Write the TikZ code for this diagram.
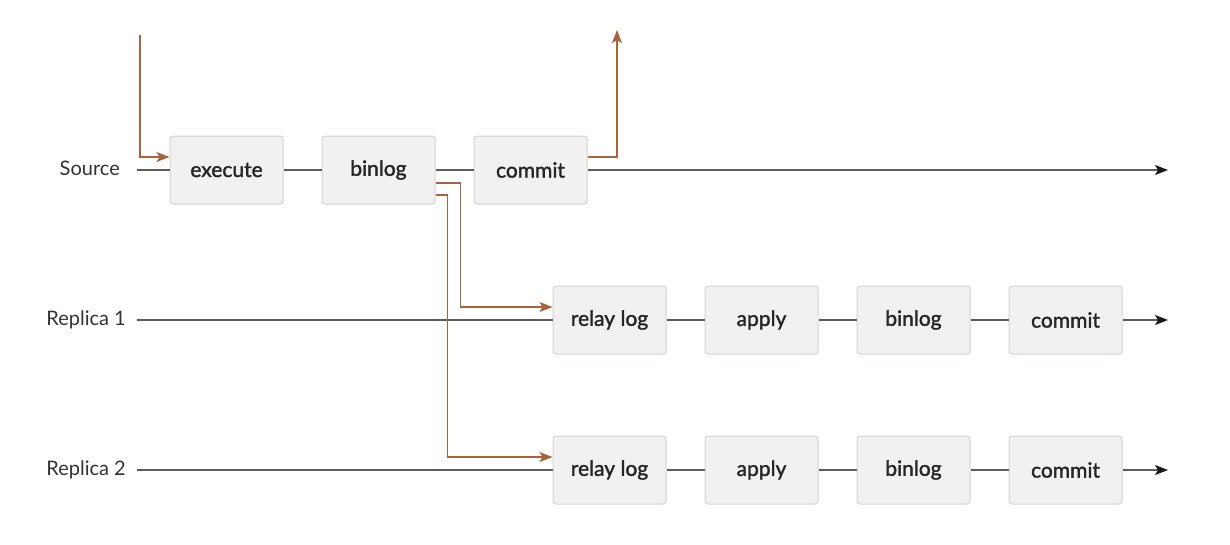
\documentclass[tikz,border=0pt]{standalone}
\usepackage{fontspec}
\setmainfont{Lato}
\newfontfamily\stagefont{Lato}[FakeBold=1.6]
\usetikzlibrary{arrows.meta,positioning}
\definecolor{boxfill}{HTML}{F2F1F0}
\definecolor{boxline}{HTML}{D6D4D2}
\definecolor{flowline}{HTML}{5C5C5C}
\definecolor{rust}{HTML}{A8643F}

\begin{document}
\begin{tikzpicture}[x=1pt,y=-1pt,
  stage/.style={draw=boxline,line width=1pt,fill=boxfill,rounded corners=3pt,
    minimum width=113pt,minimum height=68pt,inner sep=0pt,
    font=\stagefont\fontsize{21}{24}\selectfont,text=black!85},
  lane/.style={font=\fontsize{20}{23}\selectfont,text=black!80,anchor=east,inner sep=0pt},
  track/.style={draw=flowline,line width=1.4pt},
  trackend/.style={track,-{Stealth[length=13pt,width=10pt,inset=3pt,color=black!90]}},
  copyflow/.style={draw=rust,line width=1.3pt,-{Stealth[length=13pt,width=10pt,inset=3pt]}}]
\useasboundingbox (0,0) rectangle (1230,544);

% source
\node[lane] (src) at (120,168) {Source};
\coordinate (srcstart) at (137,170);
\coordinate (srcend) at (1168,170);
\node[stage] (exec) at (226.5,170) {execute};
\node[stage, right=38pt of exec] (srcbin) {binlog};
\node[stage, right=38pt of srcbin] (srccommit) {commit};
\draw[track] (srcstart) -- (exec);
\draw[track] (exec) -- (srcbin);
\draw[track] (srcbin) -- (srccommit);
\draw[trackend] (srccommit) -- (srcend);

% replica 1
\node[lane] (rep1) at (126,320) {Replica 1};
\coordinate (r1start) at (137,320);
\coordinate (r1end) at (1168,320);
\node[stage] (r1relay) at (609.5,320) {relay log};
\node[stage, right=38pt of r1relay] (r1apply) {apply};
\node[stage, right=38pt of r1apply] (r1bin) {binlog};
\node[stage, right=38pt of r1bin] (r1commit) {commit};
\draw[track] (r1start) -- (r1relay);
\draw[track] (r1relay) -- (r1apply);
\draw[track] (r1apply) -- (r1bin);
\draw[track] (r1bin) -- (r1commit);
\draw[trackend] (r1commit) -- (r1end);

% replica 2
\node[lane] (rep2) at (126,470) {Replica 2};
\coordinate (r2start) at (137,470);
\coordinate (r2end) at (1168,470);
\node[stage] (r2relay) at (609.5,470) {relay log};
\node[stage, right=38pt of r2relay] (r2apply) {apply};
\node[stage, right=38pt of r2apply] (r2bin) {binlog};
\node[stage, right=38pt of r2bin] (r2commit) {commit};
\draw[track] (r2start) -- (r2relay);
\draw[track] (r2relay) -- (r2apply);
\draw[track] (r2apply) -- (r2bin);
\draw[track] (r2bin) -- (r2commit);
\draw[trackend] (r2commit) -- (r2end);

% client request in and result out
\coordinate (reqin) at (140,35);
\coordinate (resout) at (617,30);
\draw[copyflow] (reqin) |- ([yshift=13pt]exec.west);
\draw[copyflow] ([yshift=13pt]srccommit.east) -| (resout);

% binlog shipped to replicas
\draw[copyflow] ([yshift=-13pt]srcbin.east) -- ++(25,0) |- ([yshift=13pt]r1relay.west);
\draw[copyflow] ([yshift=-25pt]srcbin.east) -- ++(12,0) |- ([yshift=13pt]r2relay.west);
\end{tikzpicture}
\end{document}
